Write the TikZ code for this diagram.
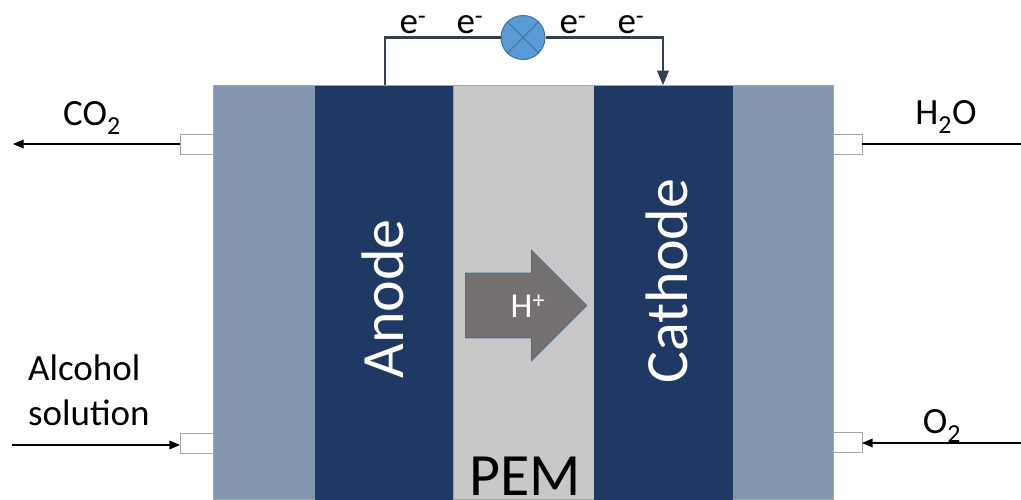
\documentclass[tikz,border=0pt]{standalone}
\usepackage{fontspec}
\setmainfont{Carlito}
\usetikzlibrary{arrows,shapes.arrows}
\definecolor{plate}{HTML}{8497B0}
\definecolor{electrode}{HTML}{1F3864}
\definecolor{membrane}{HTML}{C8C8C8}
\definecolor{portline}{HTML}{A6A6A6}
\definecolor{wirecol}{HTML}{333F50}
\definecolor{meterfill}{HTML}{5B9BD5}
\definecolor{meterline}{HTML}{41719C}
\definecolor{protonfill}{HTML}{767171}
\tikzset{
  layer/.style={anchor=north west, inner sep=0pt, outer sep=0pt, minimum height=414pt},
  port/.style={draw=portline, line width=1pt, fill=white, anchor=north west, inner sep=0pt,
    outer sep=0pt, minimum width=33pt, minimum height=20pt},
  wire/.style={draw=wirecol, line width=2.4pt},
  flow/.style={draw=black, line width=1.5pt},
  biglabel/.style={font=\fontsize{60}{60}\selectfont, inner sep=0pt},
  smalllabel/.style={font=\fontsize{37}{45}\selectfont, inner sep=0pt}
}
\begin{document}
\begin{tikzpicture}[x=1pt, y=-1pt]
    \useasboundingbox (0,0) rectangle (1021,499);
    \fill[white] (0,0) rectangle (1021,499);
    % cell
    \node[layer, fill=plate, draw=portline, line width=1pt, minimum width=620pt] (cell) at (213,85) {};
    \node[layer, fill=electrode, minimum width=138pt] (anode) at (315,85.5) {};
    \node[layer, fill=membrane, draw=portline, line width=0.8pt, minimum width=141pt] (pem) at (453,85.5) {};
    \node[layer, fill=electrode, minimum width=139pt] (cathode) at (594,85.5) {};
    \node[biglabel, text=white, rotate=90] (anodetext) at (383,299) {Anode};
    \node[biglabel, text=white, rotate=90] (cathodetext) at (667,281) {Cathode};
    \node[biglabel] (pemtext) at (525,476) {PEM};
    % ports
    \node[port] (portco) at (180,134) {};
    \node[port] (portalc) at (180,433) {};
    \node[port, minimum width=29pt] (porth) at (833,134) {};
    \node[port, minimum width=29pt] (porto) at (833,432) {};
    \coordinate (co) at (13,144);
    \coordinate (alc) at (12,445);
    \coordinate (h) at (1021,144);
    \coordinate (o) at (1021,443);
    \draw[flow, -triangle 45] (portco.west) -- (co);
    \draw[flow, -triangle 45] (alc) -- (alc -| portalc.west);
    \draw[flow] (porth.east) -- (h);
    \draw[flow, -triangle 45] (o) -- (o -| porto.east);
    \node[smalllabel] (colabel) at (92,118) {CO\textsubscript{2}};
    \node[smalllabel] (hlabel) at (946,117) {H\textsubscript{2}O};
    \node[smalllabel] (olabel) at (942,426) {O\textsubscript{2}};
    \node[smalllabel, align=left, anchor=north west] (alclabel) at (28,355) {Alcohol\\solution};
    % external circuit
    \node[circle, draw=meterline, line width=1pt, fill=meterfill, minimum size=44pt, inner sep=0pt] (meter) at (523,37.5) {};
    \draw[meterline, line width=0.8pt] (meter.north west) -- (meter.south east);
    \draw[meterline, line width=0.8pt] (meter.north east) -- (meter.south west);
    \coordinate (wireout) at (385,85);
    \coordinate (wirein) at (663,85);
    \draw[wire] (wireout) |- (meter);
    \draw[wire, -triangle 45] (meter) -| (wirein);
    \node[smalllabel] (eone) at (413,25) {e\textsuperscript{-}};
    \node[smalllabel] (etwo) at (470,25) {e\textsuperscript{-}};
    \node[smalllabel] (ethree) at (573,25) {e\textsuperscript{-}};
    \node[smalllabel] (efour) at (631,25) {e\textsuperscript{-}};
    % proton arrow
    \node[single arrow, draw=meterline, line width=1pt, fill=protonfill,
      minimum width=110pt, minimum height=121pt, single arrow head extend=19.4pt,
      single arrow head indent=0pt, inner xsep=0pt, inner ysep=27.5pt, outer sep=0pt] (proton) at (510,305.5) {};
    \node[smalllabel, text=white, font=\fontsize{35}{36}\selectfont] (protontext) at (528,306) {H\textsuperscript{+}};
\end{tikzpicture}
\end{document}
